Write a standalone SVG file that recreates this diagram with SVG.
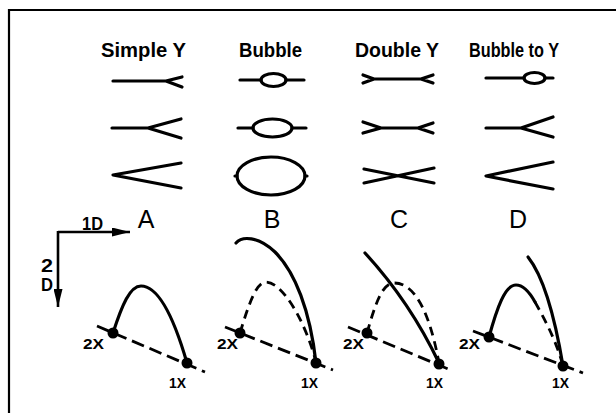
<svg xmlns="http://www.w3.org/2000/svg" width="616" height="413" viewBox="0 0 616 413">
<style>
.s{fill:none;stroke:#000;stroke-width:3.2;stroke-linecap:round;stroke-linejoin:round}
.d{fill:none;stroke:#000;stroke-width:2.8;stroke-dasharray:13 6}
.dc{fill:none;stroke:#000;stroke-width:2.8;stroke-dasharray:9 6}
.h{font-family:"Liberation Sans",Arial,sans-serif;font-weight:bold;font-size:20px;fill:#000}
.L{font-family:"Liberation Sans",Arial,sans-serif;font-size:25px;fill:#000}
.x{font-family:"Liberation Sans",Arial,sans-serif;font-weight:bold;font-size:14px;fill:#000}
.ax{font-family:"Liberation Sans",Arial,sans-serif;font-weight:bold;font-size:19px;fill:#000}
</style>
<defs>
<marker id="ah" markerWidth="18" markerHeight="9" refX="18" refY="4.5" orient="auto" markerUnits="userSpaceOnUse">
<path d="M0,0 L18,4.5 L0,9 Z" fill="#000"/>
</marker>
</defs>
<rect width="616" height="413" fill="#fff"/>
<path d="M9,413 V10 H616" fill="none" stroke="#000" stroke-width="2.2"/>

<g id="headers">
<text class="h" x="101" y="57" textLength="85" lengthAdjust="spacingAndGlyphs">Simple  Y</text>
<text class="h" x="239" y="57" textLength="63" lengthAdjust="spacingAndGlyphs">Bubble</text>
<text class="h" x="355" y="57" textLength="84" lengthAdjust="spacingAndGlyphs">Double  Y</text>
<text class="h" x="469" y="57" textLength="90" lengthAdjust="spacingAndGlyphs">Bubble to Y</text>
</g>

<g id="col-simple-y">
<path class="s" d="M113,81 H166 M182,77 L166,81 L182,87"/>
<path class="s" d="M112,128 H148 M181,119 L148,128 L181,138"/>
<path class="s" d="M181,163 L113,175 L181,188"/>
</g>

<g id="col-bubble">
<path class="s" d="M240,80 H261 M286,80 H304"/>
<ellipse class="s" cx="273.5" cy="80" rx="12.5" ry="6.5"/>
<path class="s" d="M238,128 H253 M292,128 H306"/>
<ellipse class="s" cx="272.5" cy="128" rx="19.5" ry="9"/>
<path class="s" d="M235,176 H237 M305,176 H307"/>
<ellipse class="s" cx="271" cy="176" rx="34" ry="19"/>
</g>

<g id="col-double-y">
<path class="s" d="M363,75 L374,79 L363,83 M374,79 H421 M433,75 L421,79 L433,83"/>
<path class="s" d="M363,122 L381,128 L363,133 M381,128 H418 M433,123 L418,128 L433,133"/>
<path class="s" d="M364,169 L434,183 M364,183 L434,168"/>
</g>

<g id="col-bubble-to-y">
<path class="s" d="M486,78 H524 M545,78 H553"/>
<ellipse class="s" cx="534.5" cy="78" rx="10.5" ry="5.5"/>
<path class="s" d="M486,128 H521 M553,117 L521,128 L553,137"/>
<path class="s" d="M553,162 L486,176 L553,189"/>
</g>

<g id="letters">
<text class="L" x="146" y="228" text-anchor="middle">A</text>
<text class="L" x="272" y="228" text-anchor="middle">B</text>
<text class="L" x="399" y="228" text-anchor="middle">C</text>
<text class="L" x="518" y="228" text-anchor="middle">D</text>
</g>

<g id="axes">
<path d="M58,232 H130" fill="none" stroke="#000" stroke-width="2.6" marker-end="url(#ah)"/>
<path d="M58,231 V307" fill="none" stroke="#000" stroke-width="2.6" marker-end="url(#ah)"/>
<text class="ax" x="82" y="230" textLength="21" lengthAdjust="spacingAndGlyphs">1D</text>
<text class="ax" x="41" y="272" textLength="12" lengthAdjust="spacingAndGlyphs">2</text>
<text class="ax" x="41" y="291" textLength="12" lengthAdjust="spacingAndGlyphs">D</text>
</g>

<g id="panel-a">
<path class="d" d="M97,326 L205,372"/>
<path class="s" d="M113,333 C122,305 130,286 141,286 C160,286 176,325 187,363"/>
<circle cx="113" cy="333" r="5.5"/>
<circle cx="187" cy="363" r="5.5"/>
<text class="x" x="83" y="349" textLength="21" lengthAdjust="spacingAndGlyphs">2X</text>
<text class="x" x="169" y="388" textLength="17" lengthAdjust="spacingAndGlyphs">1X</text>
</g>

<g id="panel-b">
<path class="d" d="M225,327 L333,370"/>
<path class="s" d="M236,243 C242,236 258,236 275,252 C295,272 310,310 316,363"/>
<path class="dc" d="M240,333 C250,300 257,282 266,282 C282,282 305,320 316,362"/>
<circle cx="240" cy="333" r="5.5"/>
<circle cx="316" cy="363" r="5.5"/>
<text class="x" x="217" y="349" textLength="21" lengthAdjust="spacingAndGlyphs">2X</text>
<text class="x" x="301" y="388" textLength="17" lengthAdjust="spacingAndGlyphs">1X</text>
</g>

<g id="panel-c">
<path class="d" d="M348,327 L453,371"/>
<path class="s" d="M365,253 Q410,302 439,363"/>
<path class="dc" d="M367,333 C375,305 382,283 394,283 C416,283 430,315 439,363"/>
<circle cx="367" cy="333" r="5.5"/>
<circle cx="439" cy="364" r="5.5"/>
<text class="x" x="343" y="349" textLength="21" lengthAdjust="spacingAndGlyphs">2X</text>
<text class="x" x="426" y="388" textLength="17" lengthAdjust="spacingAndGlyphs">1X</text>
</g>

<g id="panel-d">
<path class="d" d="M473,331 L583,373"/>
<path class="s" d="M489,337 C497,308 505,285 516,285 C524,285 530,293 535,302"/>
<path class="dc" d="M535,302 C545,320 556,340 563,366"/>
<path class="s" d="M528,257 C540,272 552,300 563,366"/>
<circle cx="489" cy="337" r="5.5"/>
<circle cx="563" cy="366" r="5.5"/>
<text class="x" x="459" y="349" textLength="21" lengthAdjust="spacingAndGlyphs">2X</text>
<text class="x" x="552" y="388" textLength="17" lengthAdjust="spacingAndGlyphs">1X</text>
</g>
</svg>
